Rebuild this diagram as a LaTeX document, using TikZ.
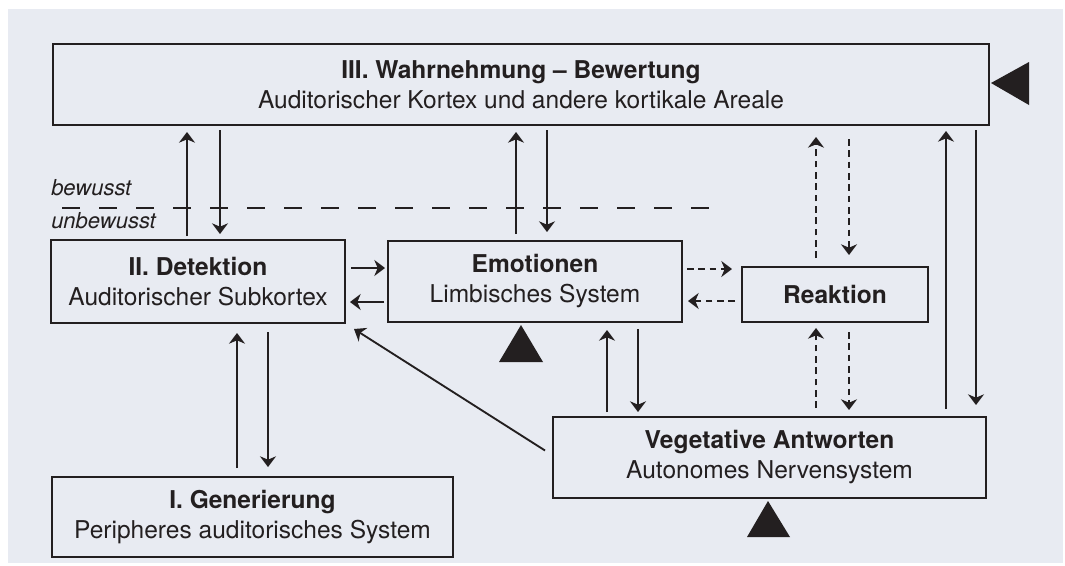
\documentclass[tikz,border=0pt]{standalone}
\usepackage{fontspec}
\setmainfont{TeX Gyre Heros}
\usetikzlibrary{arrows.meta,calc}
\definecolor{ink}{HTML}{231F20}
\definecolor{bg}{HTML}{E8EBF2}
\newcommand{\boxfont}{\fontsize{18.4}{22.5}\selectfont}
\newcommand{\labfont}{\fontsize{16.5}{19}\selectfont\itshape}
\tikzset{
  box/.style={draw=ink, line width=1.6pt, inner sep=0pt, outer sep=0pt, align=center, text=ink, font=\boxfont},
  arr/.style={-{Stealth[length=8pt,width=12pt,inset=2.5pt]}, line width=1.4pt, draw=ink},
  darr/.style={arr, dash pattern=on 5pt off 3.5pt},
  tri/.style={fill=ink}
}
\begin{document}
\begin{tikzpicture}[x=0.75pt,y=-0.75pt]
\useasboundingbox (0,0) rectangle (1065,565);
\fill[white] (0,0) rectangle (1065,565);
\fill[bg] (8,9) rectangle (1063,563);

% boxes
\node[box, minimum width=702pt, minimum height=60.75pt] (wahr) at (521,84.5)
  {\textbf{III. Wahrnehmung – Bewertung}\\Auditorischer Kortex und andere kortikale Areale};
\node[box, minimum width=220.5pt, minimum height=62.25pt] (det) at (198,281.5)
  {\textbf{II. Detektion}\\Auditorischer Subkortex};
\node[box, minimum width=220.5pt, minimum height=60.75pt] (emo) at (535,281.5)
  {\textbf{Emotionen}\\Limbisches System};
\node[box, line width=1.1pt, minimum width=139.5pt, minimum height=41.25pt] (reak) at (835,294.5)
  {\textbf{Reaktion}};
\node[box, minimum width=324.75pt, minimum height=60.75pt] (veg) at (769.5,457.5)
  {\textbf{Vegetative Antworten}\\Autonomes Nervensystem};
\node[box, minimum width=300.75pt, minimum height=60pt] (gen) at (252.5,517)
  {\textbf{I. Generierung}\\Peripheres auditorisches System};

% labels
\node[anchor=base west, inner sep=0pt, text=ink, font=\labfont] (bew) at (51,195) {bewusst};
\node[anchor=base west, inner sep=0pt, text=ink, font=\labfont] (unbew) at (51,228) {unbewusst};
\draw[ink, line width=1.4pt, dash pattern=on 13.5pt off 14.25pt] (62,208) -- (714,208);

% triangles
\fill[tri] (991,83) -- (1029,62) -- (1029,105) -- cycle;
\fill[tri] (521,325) -- (543,362) -- (499,362) -- cycle;
\fill[tri] (768,501) -- (790,537) -- (747,537) -- cycle;

% Detektion <-> III
\draw[arr] ($(det.north)+(-11,-4)$) -- ($(wahr.south)+(-334,7)$);
\draw[arr] ($(wahr.south)+(-301,5)$) -- ($(det.north)+(22,-6)$);
% Emotionen <-> III
\draw[arr] ($(emo.north)+(-19,-7)$) -- ($(wahr.south)+(-5,7)$);
\draw[arr] ($(wahr.south)+(26,5)$) -- ($(emo.north)+(12,-9)$);
% Reaktion <-> III
\draw[darr] ($(reak.north)+(-19,-9)$) -- ($(wahr.south)+(295,12)$);
\draw[darr] ($(wahr.south)+(328,14)$) -- ($(reak.north)+(14,-12)$);
% Vegetative <-> III
\draw[arr] ($(veg.north)+(176.5,-8)$) -- ($(wahr.south)+(425,6)$);
\draw[arr] ($(wahr.south)+(455,5)$) -- ($(veg.north)+(206.5,-12)$);
% Detektion <-> Emotionen
\draw[arr] ($(det.east)+(6,-13.5)$) -- ($(emo.west)+(-3,-13.5)$);
\draw[arr] ($(emo.west)+(-4,20.5)$) -- ($(det.east)+(5,20.5)$);
% Emotionen <-> Reaktion
\draw[darr] ($(emo.east)+(5,-12.5)$) -- ($(reak.west)+(-10,-25.5)$);
\draw[darr] ($(reak.west)+(-7,6.5)$) -- ($(emo.east)+(6,19.5)$);
% Generierung <-> Detektion
\draw[arr] ($(gen.north)+(-15.5,-9)$) -- ($(det.south)+(39,10)$);
\draw[arr] ($(det.south)+(70,9)$) -- ($(gen.north)+(15.5,-10)$);
% Emotionen <-> Vegetative
\draw[arr] ($(veg.north)+(-162.5,-5)$) -- ($(emo.south)+(72,8)$);
\draw[arr] ($(emo.south)+(103,7)$) -- ($(veg.north)+(-131.5,-5)$);
% Reaktion <-> Vegetative
\draw[darr] ($(veg.north)+(46.5,-9)$) -- ($(reak.south)+(-19,6)$);
\draw[darr] ($(reak.south)+(14,10)$) -- ($(veg.north)+(79.5,-7)$);
% Vegetative -> Detektion
\draw[arr] ($(veg.west)+(-8,-7)$) -- ($(det.south east)+(9,6)$);
\end{tikzpicture}
\end{document}
